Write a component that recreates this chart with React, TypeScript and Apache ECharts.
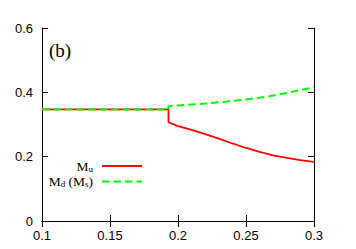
import React, { useEffect, useRef } from "react";
import * as echarts from "echarts";

const xTicks = [0.1, 0.15, 0.2, 0.25, 0.3];
const yTicks = [0, 0.2, 0.4, 0.6];

// M_u (red, solid)
const muX = [0.1, 0.193, 0.193, 0.2, 0.21, 0.22, 0.23, 0.24, 0.25, 0.26, 0.27, 0.28, 0.29, 0.3];
const muY = [0.347, 0.347, 0.307, 0.295, 0.283, 0.27, 0.256, 0.241, 0.227, 0.215, 0.204, 0.196, 0.189, 0.184];

// M_d (M_s) (green, dashed)
const mdX = [0.1, 0.193, 0.193, 0.2, 0.21, 0.22, 0.23, 0.24, 0.25, 0.26, 0.27, 0.28, 0.29, 0.3];
const mdY = [0.347, 0.347, 0.357, 0.359, 0.362, 0.365, 0.369, 0.373, 0.378, 0.383, 0.39, 0.398, 0.407, 0.416];

const seriesNames = ["Mu", "Md (Ms)"];
const panelLabel = "(b)";

const SANS = "Liberation Sans";
const SERIF = "Liberation Serif";

export default function App() {
  const ref = useRef<HTMLDivElement>(null);
  useEffect(() => {
    if (!ref.current) return;
    const chart = echarts.init(ref.current, undefined, { renderer: "svg" });
    const axisLine = { show: true, lineStyle: { color: "#000", width: 1 } };
    const axisTick = { show: true, inside: true, length: 6, lineStyle: { color: "#000", width: 1 } };
    chart.setOption({
      animation: false,
      grid: { left: 42, right: 42, top: 28, bottom: 28, containLabel: false },
      xAxis: [
        {
          type: "value",
          min: xTicks[0],
          max: xTicks[xTicks.length - 1],
          interval: 0.05,
          axisLine,
          axisTick,
          splitLine: { show: false },
          axisLabel: { color: "#000", fontFamily: SANS, fontSize: 13, margin: 8 },
        },
        {
          type: "value",
          position: "top",
          min: xTicks[0],
          max: xTicks[xTicks.length - 1],
          interval: 0.05,
          axisLine,
          axisTick,
          splitLine: { show: false },
          axisLabel: { show: false },
        },
      ],
      yAxis: [
        {
          type: "value",
          min: yTicks[0],
          max: yTicks[yTicks.length - 1],
          interval: 0.2,
          axisLine,
          axisTick,
          splitLine: { show: false },
          axisLabel: { color: "#000", fontFamily: SANS, fontSize: 13, margin: 9 },
        },
        {
          type: "value",
          position: "right",
          min: yTicks[0],
          max: yTicks[yTicks.length - 1],
          interval: 0.2,
          axisLine,
          axisTick,
          splitLine: { show: false },
          axisLabel: { show: false },
        },
      ],
      legend: {
        orient: "vertical",
        align: "right",
        right: 356 - 143,
        top: 159,
        padding: 0,
        itemWidth: 40,
        itemHeight: 12,
        itemGap: 1.5,
        itemStyle: { opacity: 0 },
        data: seriesNames,
        formatter: (name: string) =>
          name === "Mu" ? "{m|M}{s|u}{g|}" : "{m|M}{s|d}{m| (M}{s|s}{m|)}{g|}",
        textStyle: {
          color: "#000",
          fontFamily: SERIF,
          fontSize: 13,
          rich: {
            m: { fontFamily: SERIF, fontSize: 13.5, color: "#000", lineHeight: 14, verticalAlign: "middle" },
            s: { fontFamily: SERIF, fontSize: 9, color: "#000", lineHeight: 9, verticalAlign: "bottom" },
            g: { width: 4 },
          },
        },
      },
      graphic: [
        {
          type: "text",
          left: 49,
          top: 41,
          style: { text: panelLabel, font: `19px ${SERIF}`, fill: "#000" },
        },
      ],
      series: [
        {
          name: seriesNames[0],
          type: "line",
          showSymbol: false,
          symbol: "none",
          data: muX.map((x, i) => [x, muY[i]]),
          lineStyle: { color: "#ff0000", width: 1.8 },
          itemStyle: { color: "#ff0000" },
          z: 2,
        },
        {
          name: seriesNames[1],
          type: "line",
          showSymbol: false,
          symbol: "none",
          data: mdX.map((x, i) => [x, mdY[i]]),
          lineStyle: { color: "#00ff00", width: 2, type: [7.5, 4] },
          itemStyle: { color: "#00ff00" },
          z: 3,
        },
      ],
    });
    return () => chart.dispose();
  }, []);
  return (
    <div
      ref={ref}
      style={{ position: "fixed", left: 0, top: 0, width: 356, height: 249, background: "#fff" }}
    />
  );
}
